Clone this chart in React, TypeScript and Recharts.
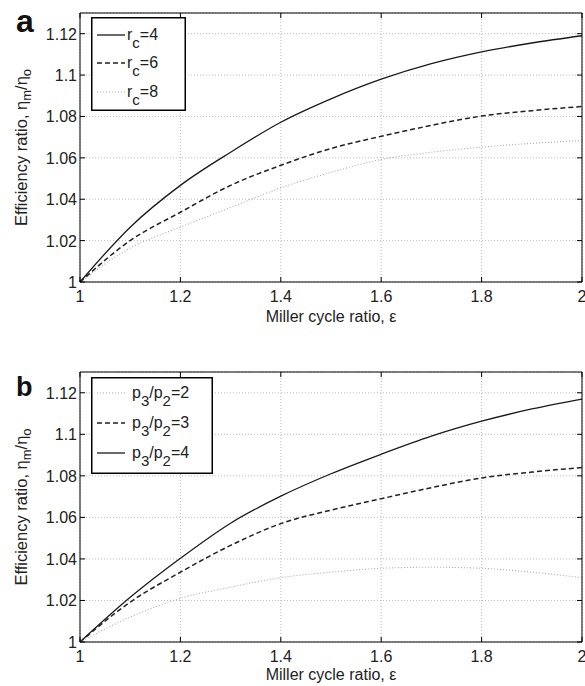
import React from 'react';
import { LineChart, Line, XAxis, YAxis, CartesianGrid, Legend } from 'recharts';

const epsilon = [1, 1.1, 1.2, 1.3, 1.4, 1.5, 1.6, 1.7, 1.8, 1.9, 2];
const rc4 = [1.0, 1.0265, 1.0467, 1.0627, 1.0772, 1.0885, 1.098, 1.1055, 1.1112, 1.1155, 1.119];
const rc6 = [1.0, 1.02, 1.0337, 1.0467, 1.0564, 1.0645, 1.0704, 1.0757, 1.0802, 1.0828, 1.0848];
const rc8 = [1.0, 1.0164, 1.0265, 1.036, 1.0455, 1.053, 1.0592, 1.0627, 1.0652, 1.067, 1.0684];
const pr2 = [1.0, 1.012, 1.021, 1.0264, 1.031, 1.0336, 1.0355, 1.036, 1.0355, 1.0336, 1.031];
const pr3 = [1.0, 1.0192, 1.0336, 1.0465, 1.057, 1.0635, 1.069, 1.0743, 1.079, 1.0818, 1.084];
const pr4 = [1.0, 1.0215, 1.0403, 1.0572, 1.0702, 1.081, 1.0904, 1.0991, 1.1063, 1.1122, 1.117];

const xTicks = [1, 1.2, 1.4, 1.6, 1.8, 2];
const yTicks = [1, 1.02, 1.04, 1.06, 1.08, 1.1, 1.12];
const yDomain = [1, 1.13];

const FONT = '"Liberation Sans", Arial, sans-serif';

const dataA = epsilon.map((e, i) => ({ e, a: rc4[i], b: rc6[i], c: rc8[i] }));
const dataB = epsilon.map((e, i) => ({ e, a: pr2[i], b: pr3[i], c: pr4[i] }));

const solid = { stroke: '#1a1a1a', strokeWidth: 1.3, dash: undefined as string | undefined };
const dashed = { stroke: '#222', strokeWidth: 1.5, dash: '5 3' };
const dotted = { stroke: '#aaa', strokeWidth: 1.1, dash: '1 2' };

const LeftTick = (props: any) => {
  const { x, y, payload } = props;
  return (
    <g>
      <line x1={x} y1={y} x2={x + 5} y2={y} stroke="#000" strokeWidth={1} />
      <text x={x - 3} y={y + 6} textAnchor="end" fontFamily={FONT} fontSize={16} fill="#222">
        {String(payload.value)}
      </text>
    </g>
  );
};
const RightTick = (props: any) => {
  const { x, y } = props;
  return <line x1={x - 5} y1={y} x2={x} y2={y} stroke="#000" strokeWidth={1} />;
};
const BottomTick = (props: any) => {
  const { x, y, payload } = props;
  return (
    <g>
      <line x1={x} y1={y} x2={x} y2={y - 5} stroke="#000" strokeWidth={1} />
      <text x={x} y={y + 20} textAnchor="middle" fontFamily={FONT} fontSize={16} fill="#222">
        {String(payload.value)}
      </text>
    </g>
  );
};
const TopTick = (props: any) => {
  const { x, y } = props;
  return <line x1={x} y1={y} x2={x} y2={y + 5} stroke="#000" strokeWidth={1} />;
};

type Entry = { style: typeof solid; main: string; sub: string; tail: string; sub2?: string; tail2?: string };

const makeLegend = (entries: Entry[], w: number, h: number, textX: number, rowY: number[]) => () => (
  <svg width={w} height={h} style={{ display: 'block' }}>
    <rect x={0.75} y={0.75} width={w - 1.5} height={h - 1.5} fill="#fff" stroke="#000" strokeWidth={1.5} />
    {entries.map((en, i) => (
      <g key={i}>
        <line x1={6} x2={34} y1={rowY[i]} y2={rowY[i]} stroke={en.style.stroke} strokeWidth={en.style.strokeWidth} strokeDasharray={en.style.dash} />
        <text x={textX} y={rowY[i] + 5} fontFamily={FONT} fontSize={16} fill="#222">
          {en.main}
          <tspan dy={8} fontSize={15}>{en.sub}</tspan>
          <tspan dy={-8}>{en.tail}</tspan>
          {en.sub2 !== undefined && <tspan dy={8} fontSize={15}>{en.sub2}</tspan>}
          {en.tail2 !== undefined && <tspan dy={-8}>{en.tail2}</tspan>}
        </text>
      </g>
    ))}
  </svg>
);

const legendA = makeLegend(
  [
    { style: solid, main: 'r', sub: 'c', tail: '=4' },
    { style: dashed, main: 'r', sub: 'c', tail: '=6' },
    { style: dotted, main: 'r', sub: 'c', tail: '=8' },
  ],
  95, 94, 36, [18, 46, 75]
);
const legendB = makeLegend(
  [
    { style: dotted, main: 'p', sub: '3', tail: '/p', sub2: '2', tail2: '=2' },
    { style: dashed, main: 'p', sub: '3', tail: '/p', sub2: '2', tail2: '=3' },
    { style: solid, main: 'p', sub: '3', tail: '/p', sub2: '2', tail2: '=4' },
  ],
  122, 97, 41, [16, 46, 76]
);

const YTitle = (props: any) => {
  const vb = props.viewBox || { x: 0, y: 0, width: 80, height: 270 };
  const cx = vb.x + 27;
  const cy = vb.y + vb.height / 2;
  return (
    <text x={cx} y={cy} transform={`rotate(-90 ${cx} ${cy})`} textAnchor="middle" fontFamily={FONT} fontSize={16.5} fill="#222">
      Efficiency ratio, η<tspan dy={4} fontSize={13}>m</tspan>
      <tspan dy={-4}>/η</tspan>
      <tspan dy={4} fontSize={13}>o</tspan>
    </text>
  );
};

const XTitle = (props: any) => {
  const vb = props.viewBox || { x: 80, y: 282, width: 502, height: 58 };
  return (
    <text x={vb.x + vb.width / 2} y={vb.y + props.dyTitle} textAnchor="middle" fontFamily={FONT} fontSize={16} fill="#222">
      Miller cycle ratio, ε
    </text>
  );
};

type PanelProps = {
  data: any[];
  styles: (typeof solid)[];
  letter: string;
  letterSize: number;
  letterBaseline: number;
  topH: number;
  bottomH: number;
  height: number;
  titleDy: number;
  legend: () => React.ReactElement;
  legendTop: number;
};

const Panel = ({ data, styles, letter, letterSize, letterBaseline, topH, bottomH, height, titleDy, legend, legendTop }: PanelProps) => (
  <div style={{ position: 'relative', width: 585, height }}>
    <LineChart width={585} height={height} data={data} margin={{ top: 0, right: 0, bottom: 0, left: 0 }}>
      <CartesianGrid stroke="#bbb" strokeDasharray="1 2" strokeWidth={1} />
      <XAxis
        dataKey="e"
        type="number"
        domain={[1, 2]}
        ticks={xTicks}
        interval={0}
        height={bottomH}
        tickSize={0}
        tickMargin={0}
        tickLine={false}
        axisLine={{ stroke: '#000', strokeWidth: 1 }}
        tick={<BottomTick />}
        label={(p: any) => <XTitle {...p} dyTitle={titleDy} />}
      />
      <XAxis
        xAxisId="top"
        orientation="top"
        dataKey="e"
        type="number"
        domain={[1, 2]}
        ticks={xTicks}
        interval={0}
        height={topH}
        tickSize={0}
        tickMargin={0}
        tickLine={false}
        axisLine={{ stroke: '#000', strokeWidth: 1 }}
        tick={<TopTick />}
      />
      <YAxis
        type="number"
        domain={yDomain}
        ticks={yTicks}
        interval={0}
        width={80}
        allowDataOverflow
        tickSize={0}
        tickMargin={0}
        tickLine={false}
        axisLine={{ stroke: '#000', strokeWidth: 1 }}
        tick={<LeftTick />}
        label={(p: any) => <YTitle {...p} />}
      />
      <YAxis
        yAxisId="right"
        orientation="right"
        type="number"
        domain={yDomain}
        ticks={yTicks}
        interval={0}
        width={3}
        allowDataOverflow
        tickSize={0}
        tickMargin={0}
        tickLine={false}
        axisLine={{ stroke: '#000', strokeWidth: 1 }}
        tick={<RightTick />}
      />
      <Legend
        layout="vertical"
        align="center"
        verticalAlign="middle"
        content={legend}
        wrapperStyle={{ left: 91, top: legendTop, width: 'auto', height: 'auto' }}
      />
      {(['c', 'b', 'a'] as const).map((k) => {
        const idx = k === 'a' ? 0 : k === 'b' ? 1 : 2;
        const s = styles[idx];
        return (
          <Line
            key={k}
            dataKey={k}
            type="monotone"
            stroke={s.stroke}
            strokeWidth={s.strokeWidth}
            strokeDasharray={s.dash}
            dot={false}
            activeDot={false}
            isAnimationActive={false}
          />
        );
      })}
    </LineChart>
    <svg width={60} height={80} style={{ position: 'absolute', left: 0, top: 0, overflow: 'visible' }}>
      <text x={16} y={letterBaseline} fontFamily={FONT} fontWeight="bold" fontSize={letterSize} fill="#111">
        {letter}
      </text>
    </svg>
  </div>
);

export default function App() {
  return (
    <div style={{ position: 'absolute', left: 0, top: 0, width: 585, height: 686, background: '#fff' }}>
      <Panel data={dataA} styles={[solid, dashed, dotted]} letter="a" letterSize={32} letterBaseline={32} topH={13} bottomH={58} height={340} titleDy={40} legend={legendA} legendTop={17} />
      <Panel data={dataB} styles={[dotted, dashed, solid]} letter="b" letterSize={27} letterBaseline={56} topH={32} bottomH={44} height={346} titleDy={38} legend={legendB} legendTop={37} />
    </div>
  );
}
